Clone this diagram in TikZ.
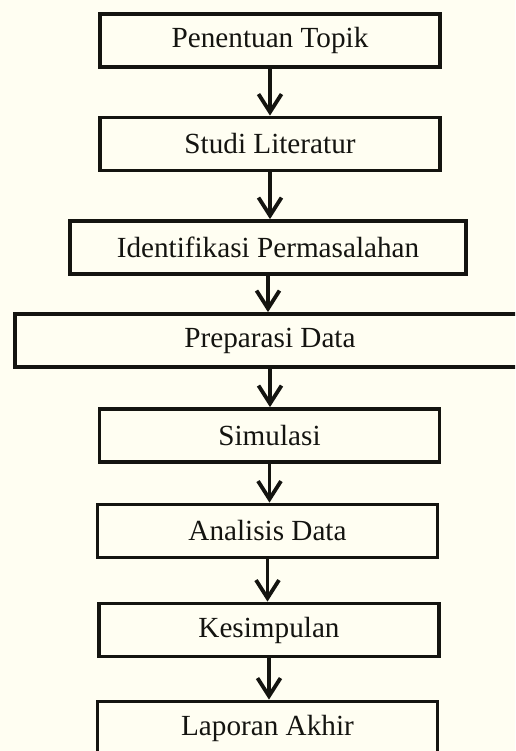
\documentclass[tikz,border=0pt]{standalone}
\usepackage{fontspec}
\setmainfont{Liberation Serif}
\usetikzlibrary{arrows.meta}
\definecolor{kertas}{HTML}{FFFEF2}
\definecolor{tinta}{HTML}{141410}

\begin{document}
\begin{tikzpicture}[x=0.5pt,y=-0.5pt,
    tahap/.style={draw=tinta,text=tinta,line width=1.9pt,inner sep=0pt,
        minimum width=170pt,minimum height=26.5pt,
        font=\fontsize{14.6}{17}\selectfont},
    panah/.style={draw=tinta,line width=1.9pt,
        -{Straight Barb[length=9pt,width=11.5pt]}}]
    \useasboundingbox (0,0) rectangle (515,751);
    \clip (0,0) rectangle (515,751);
    \fill[kertas] (0,0) rectangle (515,751);
    % tahapan penelitian
    \node[tahap] (topik) at (270,40.5) {Penentuan Topik};
    \node[tahap] (studi) at (270,144) {Studi Literatur};
    \node[tahap,minimum width=198pt] (identifikasi) at (268,247.5) {Identifikasi Permasalahan};
    \node[tahap,minimum width=255pt] (preparasi) at (270,340.5) {Preparasi Data};
    \node[tahap] (simulasi) at (269.5,435.5) {Simulasi};
    \node[tahap] (analisis) at (267.5,531) {Analisis Data};
    \node[tahap] (kesimpulan) at (269,630) {Kesimpulan};
    \node[tahap] (laporan) at (267.5,728) {Laporan Akhir};
    % alur
    \draw[panah] (topik.south) -- (topik.south |- studi.north);
    \draw[panah] (studi.south) -- (studi.south |- identifikasi.north);
    \draw[panah] (identifikasi.south) -- (identifikasi.south |- preparasi.north);
    \draw[panah] (preparasi.south) -- (preparasi.south |- simulasi.north);
    \draw[panah] (simulasi.south) -- (simulasi.south |- analisis.north);
    \draw[panah] (analisis.south) -- (analisis.south |- kesimpulan.north);
    \draw[panah] (kesimpulan.south) -- (kesimpulan.south |- laporan.north);
\end{tikzpicture}
\end{document}
